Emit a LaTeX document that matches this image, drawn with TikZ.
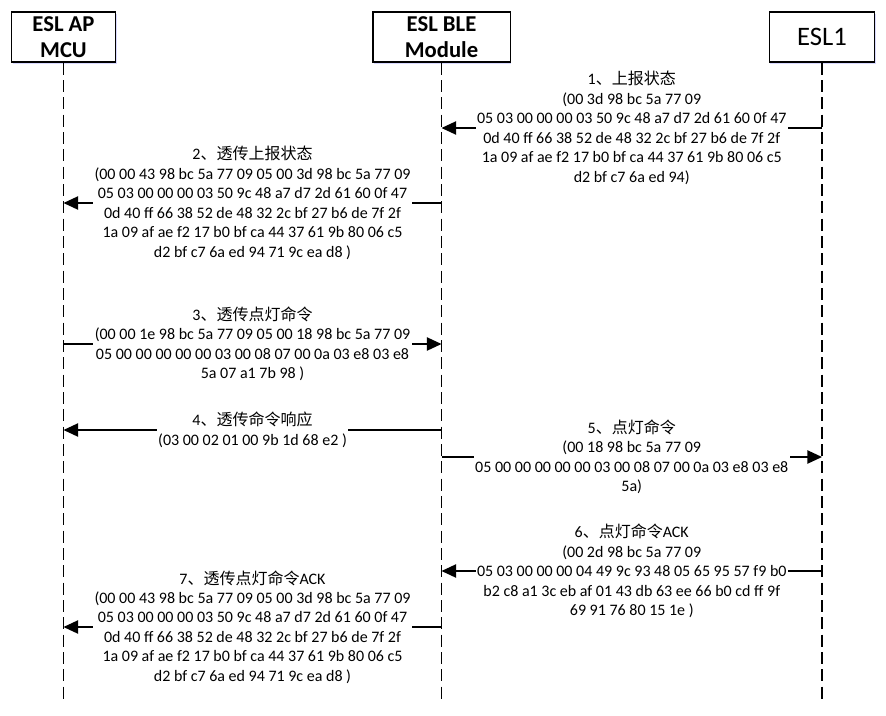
\documentclass[tikz,border=0pt]{standalone}
\usepackage{fontspec}
\setmainfont{Carlito}
\newfontfamily\cjk{Noto Sans CJK SC}
\usetikzlibrary{arrows.meta}
\usetikzlibrary{shadows}
\newcommand{\zh}[1]{{\cjk #1}}

\tikzset{
  actor/.style={draw, line width=1pt, fill=white, minimum height=37.5pt, align=center,
    drop shadow={shadow xshift=0.8pt, shadow yshift=-1.6pt, fill=blue!30, opacity=0.5}},
  lifeline/.style={line width=1.4pt, dash pattern=on 9pt off 4pt},
  msg/.style={line width=1pt, -{Triangle[length=11pt,width=10pt]}},
  lbl/.style={fill=white, inner xsep=1pt, inner ysep=1pt, align=center,
    font=\fontsize{12pt}{14.6pt}\selectfont},
}

\begin{document}
\begin{tikzpicture}[x=0.75pt,y=-0.75pt]
  \useasboundingbox (0,0) rectangle (886,715);

  % participants
  \node[actor, minimum width=78pt, font=\bfseries\fontsize{17pt}{19pt}\selectfont] (mcu) at (63.5,37) {ESL AP\\MCU};
  \node[actor, minimum width=103pt, font=\bfseries\fontsize{17pt}{19pt}\selectfont] (ble) at (441.5,37) {ESL BLE\\Module};
  \node[actor, minimum width=79pt, font=\fontsize{20pt}{22pt}\selectfont] (esl) at (822,37) {ESL1};

  % lifelines
  \draw[lifeline] (mcu.south) -- (mcu |- 0,700);
  \draw[lifeline] (ble.south) -- (ble |- 0,700);
  \draw[lifeline] (esl.south) -- (esl |- 0,700);

  % messages
  \draw[msg] (esl |- 0,128) -- node[lbl] (m1) {1\zh{、上报状态}\\(00 3d 98 bc 5a 77 09\\05 03 00 00 00 03 50 9c 48 a7 d7 2d 61 60 0f 47\\0d 40 ff 66 38 52 de 48 32 2c bf 27 b6 de 7f 2f\\1a 09 af ae f2 17 b0 bf ca 44 37 61 9b 80 06 c5\\d2 bf c7 6a ed 94)} (ble |- 0,128);
  \draw[msg] (ble |- 0,203) -- node[lbl] (m2) {2\zh{、透传上报状态}\\(00 00 43 98 bc 5a 77 09 05 00 3d 98 bc 5a 77 09\\05 03 00 00 00 03 50 9c 48 a7 d7 2d 61 60 0f 47\\0d 40 ff 66 38 52 de 48 32 2c bf 27 b6 de 7f 2f\\1a 09 af ae f2 17 b0 bf ca 44 37 61 9b 80 06 c5\\d2 bf c7 6a ed 94 71 9c ea d8 )} (mcu |- 0,203);
  \draw[msg] (mcu |- 0,344) -- node[lbl] (m3) {3\zh{、透传点灯命令}\\(00 00 1e 98 bc 5a 77 09 05 00 18 98 bc 5a 77 09\\05 00 00 00 00 00 03 00 08 07 00 0a 03 e8 03 e8\\5a 07 a1 7b 98 )} (ble |- 0,344);
  \draw[msg] (ble |- 0,430) -- node[lbl] (m4) {4\zh{、透传命令响应}\\(03 00 02 01 00 9b 1d 68 e2 )} (mcu |- 0,430);
  \draw[msg] (ble |- 0,457) -- node[lbl] (m5) {5\zh{、点灯命令}\\(00 18 98 bc 5a 77 09\\05 00 00 00 00 00 03 00 08 07 00 0a 03 e8 03 e8\\5a)} (esl |- 0,457);
  \draw[msg] (esl |- 0,571) -- node[lbl] (m6) {6\zh{、点灯命令}ACK\\(00 2d 98 bc 5a 77 09\\05 03 00 00 00 04 49 9c 93 48 05 65 95 57 f9 b0\\b2 c8 a1 3c eb af 01 43 db 63 ee 66 b0 cd ff 9f\\69 91 76 80 15 1e )} (ble |- 0,571);
  \draw[msg] (ble |- 0,627) -- node[lbl] (m7) {7\zh{、透传点灯命令}ACK\\(00 00 43 98 bc 5a 77 09 05 00 3d 98 bc 5a 77 09\\05 03 00 00 00 03 50 9c 48 a7 d7 2d 61 60 0f 47\\0d 40 ff 66 38 52 de 48 32 2c bf 27 b6 de 7f 2f\\1a 09 af ae f2 17 b0 bf ca 44 37 61 9b 80 06 c5\\d2 bf c7 6a ed 94 71 9c ea d8 )} (mcu |- 0,627);
\end{tikzpicture}
\end{document}
